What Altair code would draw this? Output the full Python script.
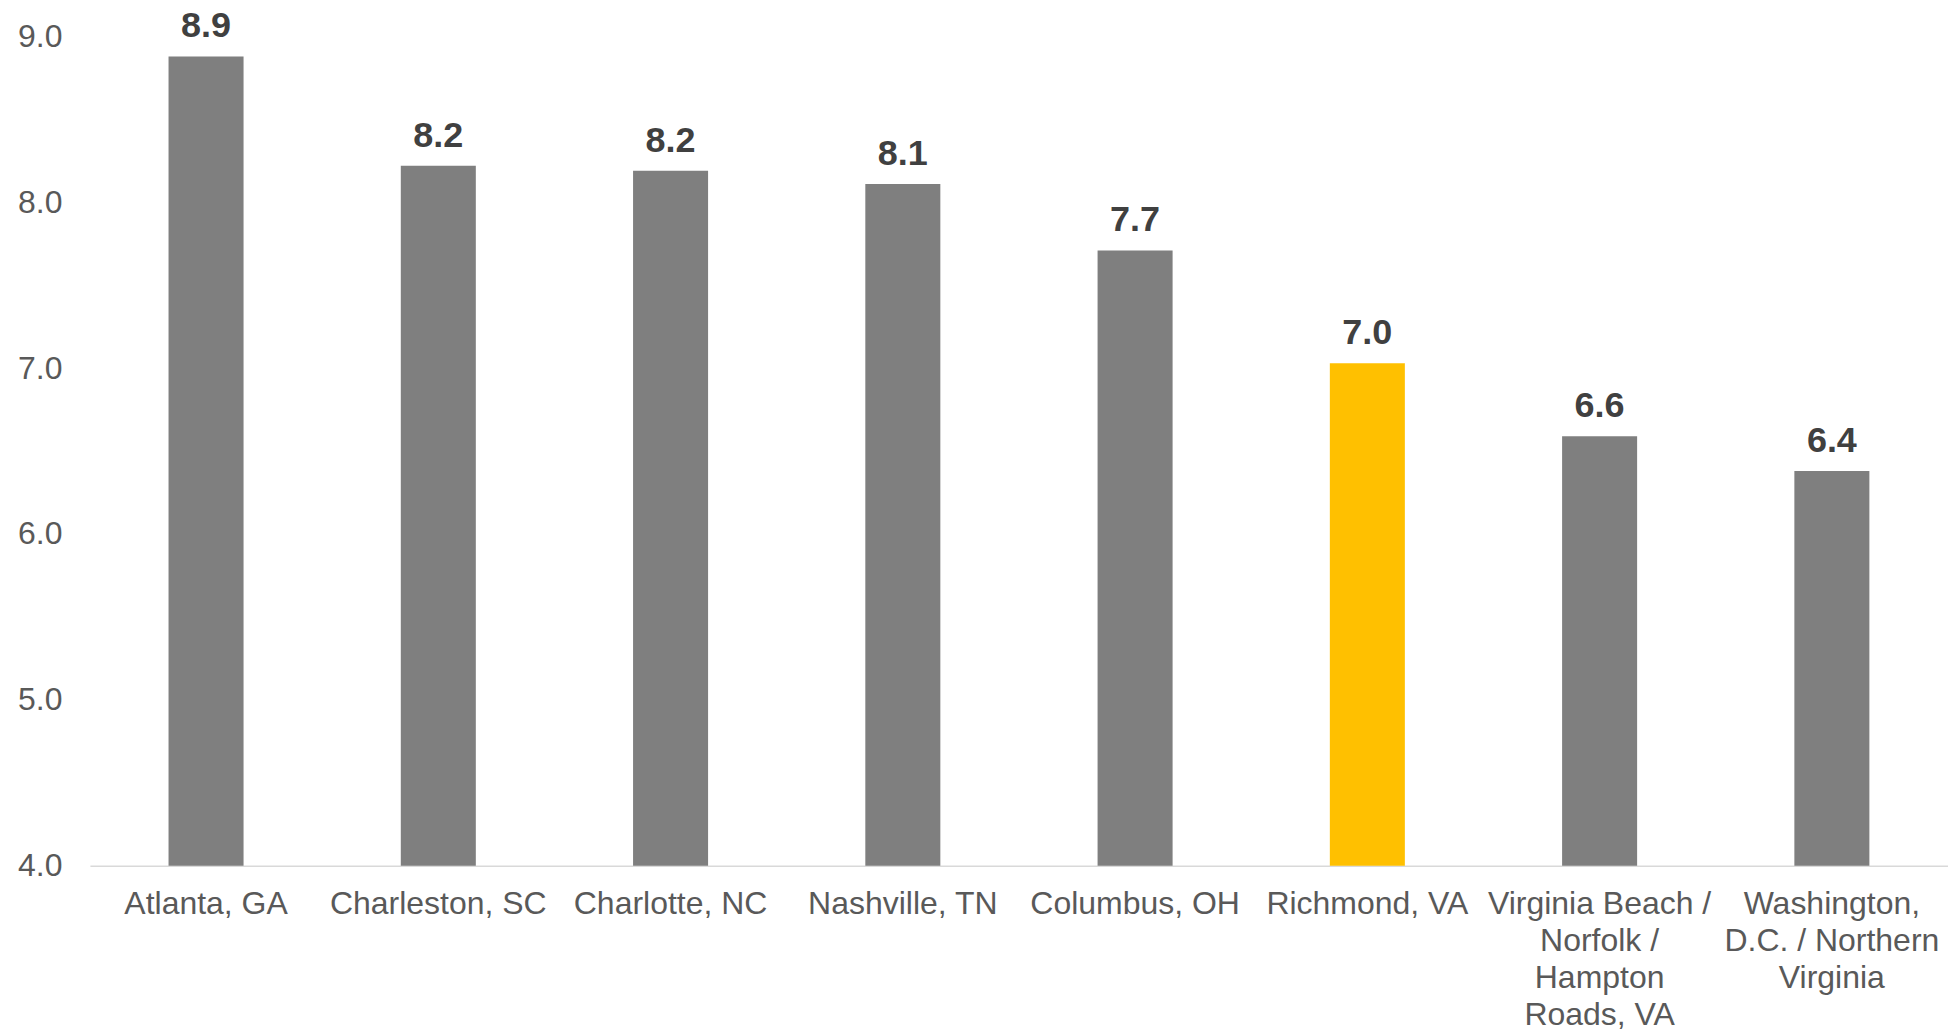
import altair as alt
import pandas as pd

cities = [
    "Atlanta, GA",
    "Charleston, SC",
    "Charlotte, NC",
    "Nashville, TN",
    "Columbus, OH",
    "Richmond, VA",
    "Virginia Beach /|Norfolk /|Hampton|Roads, VA",
    "Washington,|D.C. / Northern|Virginia",
]
values = [8.88, 8.22, 8.19, 8.11, 7.71, 7.03, 6.59, 6.38]
labels = ["8.9", "8.2", "8.2", "8.1", "7.7", "7.0", "6.6", "6.4"]
highlight = "Richmond, VA"

df = pd.DataFrame({"city": cities, "value": values, "label": labels})

FONT = "Liberation Sans"

x = alt.X(
    "city:N",
    sort=cities,
    title=None,
    scale=alt.Scale(paddingInner=0.677, paddingOuter=0.3385),
    axis=alt.Axis(
        labelAngle=0,
        labelExpr="split(datum.label, '|')",
        labelFont=FONT,
        labelFontSize=32,
        labelColor="#595959",
        labelLineHeight=37,
        labelPadding=23,
        ticks=False,
        tickSize=0,
        domainColor="#d9d9d9",
        domainWidth=1.5,
        labelLimit=400,
    ),
)

y = alt.Y(
    "value:Q",
    title=None,
    scale=alt.Scale(domain=[4, 9], nice=False, zero=False),
    axis=alt.Axis(
        values=[4, 5, 6, 7, 8, 9],
        format=".1f",
        grid=False,
        domain=False,
        ticks=False,
        tickSize=0,
        labelFont=FONT,
        labelFontSize=32,
        labelColor="#595959",
        labelPadding=28,
    ),
)

base = alt.Chart(df)

bars = base.mark_bar().encode(
    x=x,
    y=y,
    y2=alt.datum(4),
    color=alt.condition(
        alt.datum.city == highlight, alt.value("#FFC000"), alt.value("#7F7F7F")
    ),
)

text = base.mark_text(
    font=FONT,
    fontSize=36,
    fontWeight="bold",
    color="#404040",
    baseline="alphabetic",
    dy=-19,
).encode(x=x, y=y, text="label:N")

chart = (
    alt.layer(bars, text)
    .properties(
        width=1860,
        height=830,
        autosize=alt.AutoSizeParams(type="none"),
        padding={"left": 82, "top": 28, "right": 0, "bottom": 166},
    )
    .configure_view(stroke=None)
)

chart.save("out.html", embed_options={"renderer": "svg", "actions": False})
